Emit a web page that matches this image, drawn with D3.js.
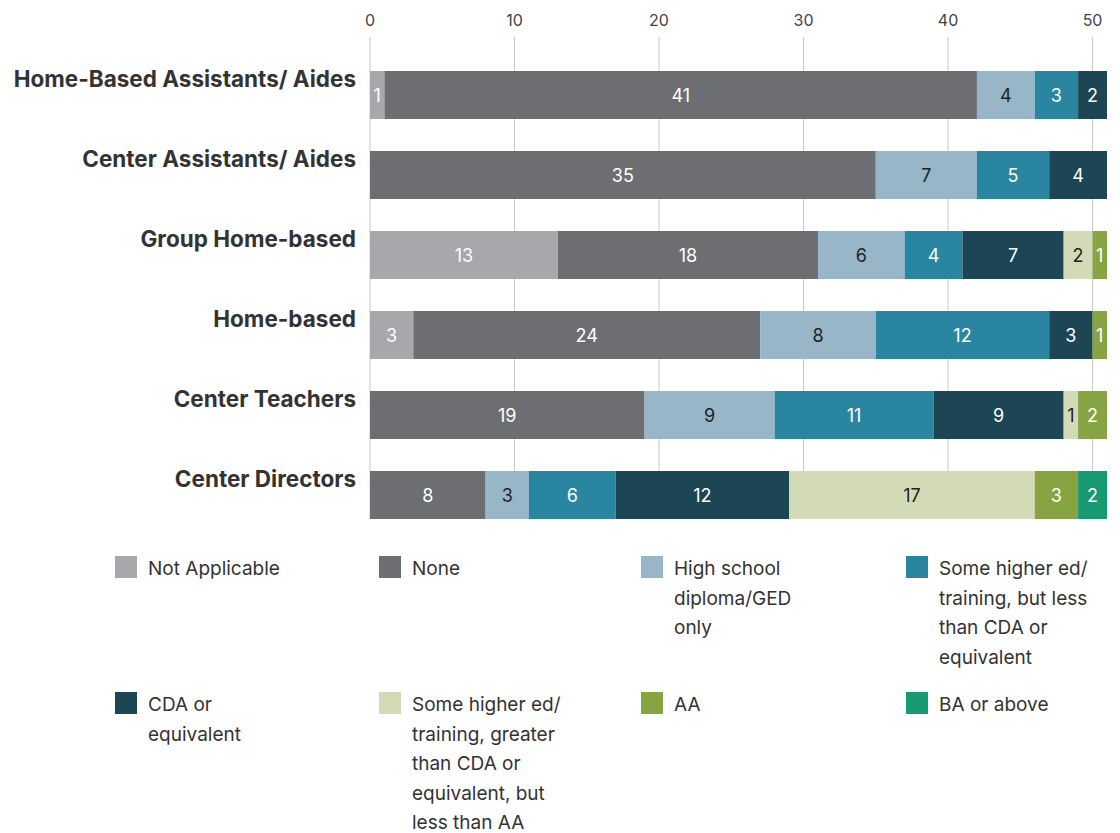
<!DOCTYPE html>
<html>
<head>
<meta charset="utf-8">
<script src="https://cdn.jsdelivr.net/npm/d3@7"></script>
<style>
  body { margin: 0; background: #fff; }
  svg { display: block; font-family: Inter, "Noto Sans", sans-serif; }
</style>
</head>
<body>
<div class="chart"></div>
<script>
// categories (rows, top to bottom)
var categories = [
  "Home-Based Assistants/ Aides",
  "Center Assistants/ Aides",
  "Group Home-based",
  "Home-based",
  "Center Teachers",
  "Center Directors"
];

// series values, one per category
var notApplicable  = [1, 0, 13, 3, 0, 0];
var none           = [41, 35, 18, 24, 19, 8];
var highSchool     = [4, 7, 6, 8, 9, 3];
var someLessCDA    = [3, 5, 4, 12, 11, 6];
var cdaEquivalent  = [2, 4, 7, 3, 9, 12];
var someMoreCDA    = [0, 0, 2, 0, 1, 17];
var associate      = [0, 0, 1, 1, 2, 3];
var bachelorPlus   = [0, 0, 0, 0, 0, 2];

// legend labels (already broken into lines like the original)
var seriesLabels = [
  ["Not Applicable"],
  ["None"],
  ["High school", "diploma/GED", "only"],
  ["Some higher ed/", "training, but less", "than CDA or", "equivalent"],
  ["CDA or", "equivalent"],
  ["Some higher ed/", "training, greater", "than CDA or", "equivalent, but", "less than AA"],
  ["AA"],
  ["BA or above"]
];

var tickValues = [0, 10, 20, 30, 40, 50];

var seriesKeys = ["na", "none", "hs", "lessCDA", "cda", "moreCDA", "aa", "ba"];
var seriesValues = [notApplicable, none, highSchool, someLessCDA, cdaEquivalent, someMoreCDA, associate, bachelorPlus];
var colors = ["#a7a8ab", "#6d6e72", "#97b6c7", "#2a86a0", "#1c4654", "#d3dab6", "#87a443", "#179a72"];
var darkText = { hs: true, moreCDA: true };

// build rows for d3.stack
var rows = categories.map(function(c, i) {
  var r = { category: c };
  seriesKeys.forEach(function(k, j) { r[k] = seriesValues[j][i]; });
  return r;
});

var svgWidth = 1120, svgHeight = 833;
var svg = d3.select(".chart").append("svg")
  .attr("width", svgWidth)
  .attr("height", svgHeight);

var totalMax = d3.max(rows, function(r) { return d3.sum(seriesKeys, function(k) { return r[k]; }); });

var x = d3.scaleLinear()
  .domain([0, totalMax])
  .range([370, 1107]);

var y = d3.scaleBand()
  .domain(categories)
  .range([55, 535])
  .paddingInner(0.4)
  .paddingOuter(0.2);

var color = d3.scaleOrdinal().domain(seriesKeys).range(colors);

// gridlines
svg.append("g")
  .selectAll("line")
  .data(tickValues)
  .enter()
  .append("line")
  .attr("x1", d => x(d)).attr("x2", d => x(d))
  .attr("y1", 37).attr("y2", 519)
  .attr("stroke", "#c8c8c8")
  .attr("stroke-width", 1);

// top axis labels
svg.append("g")
  .selectAll("text")
  .data(tickValues)
  .enter()
  .append("text")
  .attr("x", d => x(d))
  .attr("y", 26)
  .attr("text-anchor", "middle")
  .attr("font-size", 16)
  .attr("fill", "#444")
  .text(d => d);

// stacked bars
var stacked = d3.stack().keys(seriesKeys)(rows);

var layers = svg.append("g")
  .selectAll("g")
  .data(stacked)
  .enter()
  .append("g")
  .attr("fill", d => color(d.key));

layers.selectAll("rect")
  .data(d => d.filter(s => s[1] - s[0] > 0))
  .enter()
  .append("rect")
  .attr("x", d => x(d[0]))
  .attr("width", d => x(d[1]) - x(d[0]))
  .attr("y", d => y(d.data.category))
  .attr("height", y.bandwidth());

// value labels
stacked.forEach(function(layer) {
  svg.append("g")
    .selectAll("text")
    .data(layer.filter(s => s[1] - s[0] > 0))
    .enter()
    .append("text")
    .attr("x", d => (x(d[0]) + x(d[1])) / 2)
    .attr("y", d => y(d.data.category) + y.bandwidth() / 2 + 7)
    .attr("text-anchor", "middle")
    .attr("font-size", 18)
    .attr("fill", darkText[layer.key] ? "#222" : "#fff")
    .text(d => d[1] - d[0]);
});

// category labels
svg.append("g")
  .selectAll("text")
  .data(categories)
  .enter()
  .append("text")
  .attr("x", 356)
  .attr("y", d => y(d) + 16)
  .attr("text-anchor", "end")
  .attr("font-size", 22.5)
  .attr("font-weight", 700)
  .attr("fill", "#333")
  .text(d => d);

// legend, 4 columns x 2 rows
var colX = [115, 379, 641, 906];
var rowY = [556, 692];

var legend = svg.append("g")
  .selectAll("g")
  .data(seriesKeys)
  .enter()
  .append("g")
  .attr("transform", (d, i) => `translate(${colX[i % 4]}, ${rowY[Math.floor(i / 4)]})`);

legend.append("rect")
  .attr("width", 22)
  .attr("height", 22)
  .attr("fill", d => color(d));

legend.append("text")
  .attr("x", 33)
  .attr("y", 19)
  .attr("font-size", 19)
  .attr("fill", "#333")
  .selectAll("tspan")
  .data((d, i) => seriesLabels[i])
  .enter()
  .append("tspan")
  .attr("x", 33)
  .attr("dy", (d, i) => i === 0 ? 0 : 29.5)
  .text(d => d);
</script>
</body>
</html>
